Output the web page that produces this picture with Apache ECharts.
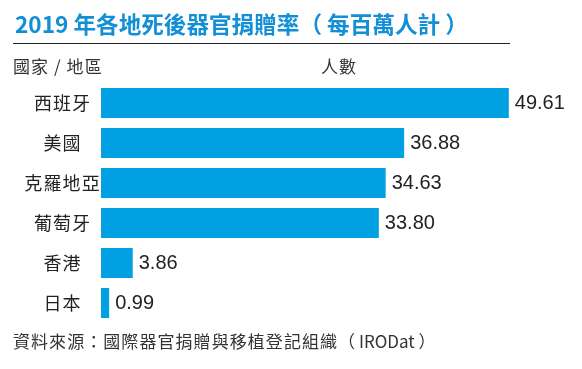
<!DOCTYPE html>
<html>
<head>
<meta charset="utf-8">
<script src="https://cdn.jsdelivr.net/npm/echarts@6/dist/echarts.min.js"></script>
<style>html,body{margin:0;padding:0;background:#fff;}#c{width:582px;height:369px;}</style>
</head>
<body>
<div id="c"></div>
<script>
const categories = ['西班牙', '美國', '克羅地亞', '葡萄牙', '香港', '日本'];
const values = [49.61, 36.88, 34.63, 33.80, 3.86, 0.99];
const titleText = '2019 年各地死後器官捐贈率（ 每百萬人計 ）';
const headerLeft = '國家 / 地區';
const headerRight = '人數';
const sourceCJK = '資料來源：國際器官捐贈與移植登記組織（';
const sourceLatin = ' IRODat ）';

const HAIR = '\u200A';
const spaced = s => Array.from(s).join(HAIR);
const CJK = '"Noto Sans CJK TC", "Noto Sans", sans-serif';
const chart = echarts.init(document.getElementById('c'), null, {renderer: 'canvas'});
chart.setOption({
  animation: false,
  backgroundColor: '#fff',
  title: {
    text: titleText,
    left: 10, top: 8,
    textStyle: {fontFamily: CJK, fontWeight: 'bold', fontSize: 22.6, color: '#138fd5'}
  },
  graphic: [
    {type: 'line', shape: {x1: 13, y1: 43.5, x2: 510, y2: 43.5}, style: {stroke: '#222', lineWidth: 1.2}},
    {type: 'text', left: 13, top: 58, style: {text: spaced(headerLeft), font: '17px ' + CJK, fill: '#333'}},
    {type: 'text', left: 321, top: 58, style: {text: spaced(headerRight), font: '17px ' + CJK, fill: '#333'}},
    {type: 'text', left: 13, top: 333, style: {text: spaced(sourceCJK) + sourceLatin, font: '17px ' + CJK, fill: '#333'}}
  ],
  grid: {left: 101, top: 83, width: 411, height: 240, containLabel: false},
  xAxis: {type: 'value', min: 0, max: 50, show: false},
  yAxis: {
    type: 'category', data: categories, inverse: true,
    axisLine: {show: false}, axisTick: {show: false}, splitLine: {show: false},
    axisLabel: {align: 'center', margin: 39, fontFamily: CJK, fontSize: 18, color: '#222',
      formatter: v => spaced(v)}
  },
  series: [{
    type: 'bar', data: values, barWidth: 30,
    itemStyle: {color: '#00a0e3'},
    label: {
      show: true, position: 'right', distance: 6,
      formatter: p => p.value.toFixed(2),
      fontFamily: 'Liberation Sans, Arial, sans-serif', fontSize: 20, color: '#222'
    }
  }]
});
</script>
</body>
</html>
